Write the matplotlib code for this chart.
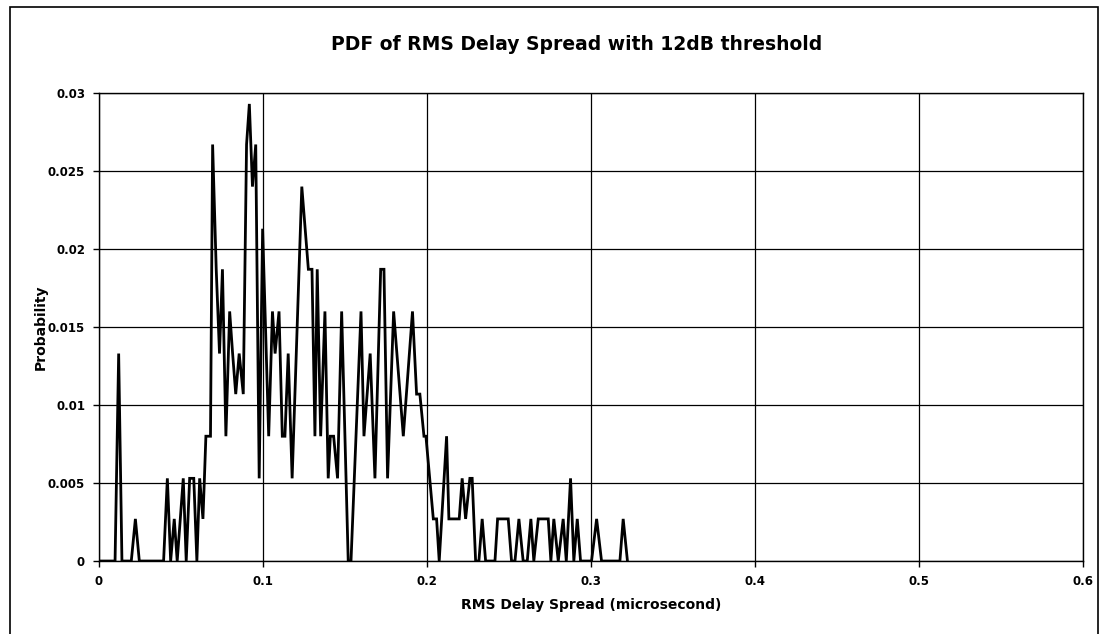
import numpy as np
import matplotlib.pyplot as plt
from matplotlib.patches import Rectangle
from matplotlib.ticker import FuncFormatter

# RMS delay spread (microsecond) vertices of the PDF curve
delay_us = [
    0.000, 0.0098, 0.0120, 0.0140, 0.0197, 0.0222, 0.0246, 0.0394, 0.0417, 0.0437,
    0.0459, 0.0477, 0.0514, 0.0532, 0.0553, 0.0578, 0.0597, 0.0614, 0.0634, 0.0643,
    0.0652, 0.0680, 0.0693, 0.0715, 0.0735, 0.0753, 0.0774, 0.0797, 0.0815, 0.0834,
    0.0855, 0.0880, 0.0900, 0.0917, 0.0936, 0.0956, 0.0977, 0.0998, 0.1035, 0.1058,
    0.1074, 0.1098, 0.1118, 0.1134, 0.1154, 0.1178, 0.1237, 0.1277, 0.1299, 0.1317,
    0.1331, 0.1352, 0.1378, 0.1398, 0.1411, 0.1431, 0.1455, 0.1480, 0.1520, 0.1537,
    0.1598, 0.1616, 0.1654, 0.1683, 0.1718, 0.1738, 0.1760, 0.1797, 0.1856, 0.1912,
    0.1937, 0.1957, 0.1982, 0.1994, 0.2039, 0.2059, 0.2075, 0.2120, 0.2134, 0.2197,
    0.2215, 0.2236, 0.2262, 0.2276, 0.2297, 0.2317, 0.2337, 0.2358, 0.2415, 0.2431,
    0.2496, 0.2516, 0.2537, 0.2561, 0.2587, 0.2612, 0.2634, 0.2652, 0.2679, 0.2740,
    0.2756, 0.2774, 0.2801, 0.2831, 0.2850, 0.2876, 0.2896, 0.2917, 0.2937, 0.3004,
    0.3035, 0.3065, 0.3177, 0.3197, 0.3223,
]

probability = [
    0.0, 0.0, 0.0133, 0.0, 0.0, 0.0027, 0.0, 0.0, 0.0053, 0.0,
    0.0027, 0.0, 0.0053, 0.0, 0.0053, 0.0053, 0.0, 0.0053, 0.0027, 0.0053,
    0.008, 0.008, 0.0267, 0.0187, 0.0133, 0.0187, 0.008, 0.016, 0.0133, 0.0107,
    0.0133, 0.0107, 0.0267, 0.0293, 0.024, 0.0267, 0.0053, 0.0213, 0.008, 0.016,
    0.0133, 0.016, 0.008, 0.008, 0.0133, 0.0053, 0.024, 0.0187, 0.0187, 0.008,
    0.0187, 0.008, 0.016, 0.0053, 0.008, 0.008, 0.0053, 0.016, 0.0, 0.0,
    0.016, 0.008, 0.0133, 0.0053, 0.0187, 0.0187, 0.0053, 0.016, 0.008, 0.016,
    0.0107, 0.0107, 0.008, 0.008, 0.0027, 0.0027, 0.0, 0.008, 0.0027, 0.0027,
    0.0053, 0.0027, 0.0053, 0.0053, 0.0, 0.0, 0.0027, 0.0, 0.0, 0.0027,
    0.0027, 0.0, 0.0, 0.0027, 0.0, 0.0, 0.0027, 0.0, 0.0027, 0.0027,
    0.0, 0.0027, 0.0, 0.0027, 0.0, 0.0053, 0.0, 0.0027, 0.0, 0.0,
    0.0027, 0.0, 0.0, 0.0027, 0.0,
]

x_ticks = [0, 0.1, 0.2, 0.3, 0.4, 0.5, 0.6]
y_ticks = [0, 0.005, 0.01, 0.015, 0.02, 0.025, 0.03]


def main():
    fig = plt.figure(figsize=(11.06, 6.34), dpi=100)
    ax = fig.add_axes([0.0895, 0.1151, 0.8895, 0.7382])

    ax.plot(delay_us, probability, color="black", lw=2.0, solid_joinstyle="miter")

    ax.set_xlim(0, 0.6)
    ax.set_ylim(0, 0.03)
    ax.set_xticks(x_ticks)
    ax.set_yticks(y_ticks)
    ax.xaxis.set_major_formatter(FuncFormatter(lambda v, _: f"{v:g}"))
    ax.yaxis.set_major_formatter(FuncFormatter(lambda v, _: f"{v:g}"))
    ax.grid(True, color="black", lw=0.9)
    ax.set_axisbelow(True)
    for sp in ax.spines.values():
        sp.set_color("black")
        sp.set_linewidth(1.0)
    ax.tick_params(direction="out", length=4, width=1, color="black",
                   labelsize=8.5, pad=6)
    for lab in ax.get_xticklabels() + ax.get_yticklabels():
        lab.set_fontweight("bold")

    ax.set_xlabel("RMS Delay Spread (microsecond)", fontsize=10,
                  fontweight="bold", labelpad=7)
    ax.set_ylabel("Probability", fontsize=10, fontweight="bold", labelpad=0)
    fig.text(577 / 1106, 1 - 45 / 634, "PDF of RMS Delay Spread with 12dB threshold",
             fontsize=13.5, fontweight="bold", ha="center", va="center")

    # outer chart-area border
    fig.patches.append(Rectangle((10 / 1106, -0.05), 1088 / 1106, 1.05 - 7 / 634,
                                 transform=fig.transFigure, fill=False,
                                 edgecolor="black", lw=1.2))

    fig.savefig("out.png", dpi=100)


if __name__ == "__main__":
    main()
